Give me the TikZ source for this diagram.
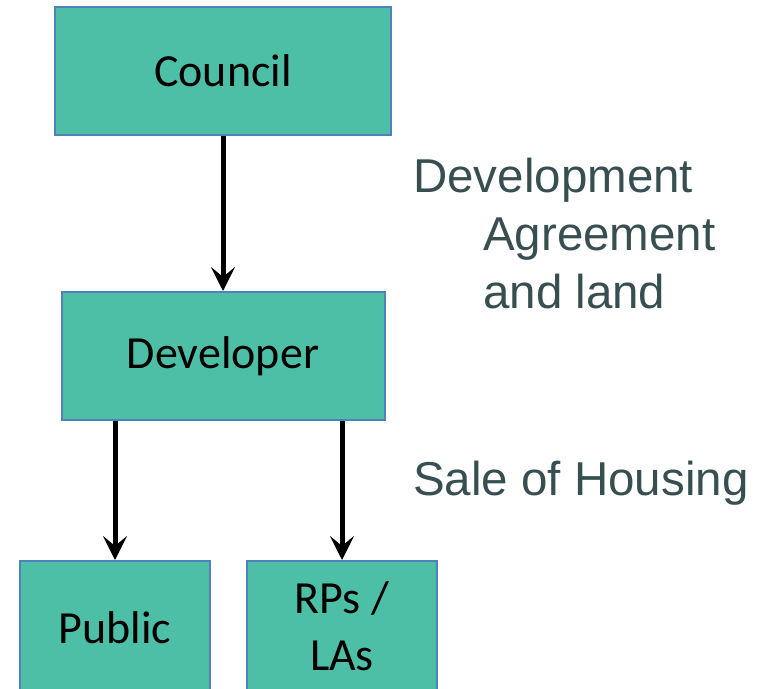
\documentclass[tikz,border=0pt]{standalone}
\usepackage{fontspec}
\setmainfont{Carlito}
\newfontfamily\notefont{Liberation Sans}
\usetikzlibrary{positioning,arrows.meta}
\definecolor{boxfill}{HTML}{4DBFA6}
\definecolor{boxline}{HTML}{4F81BD}
\definecolor{notegray}{HTML}{384F52}

\begin{document}
\begin{tikzpicture}[x=1pt,y=-1pt,
  party/.style={draw=boxline,line width=2pt,fill=boxfill,inner sep=0pt,align=center,
    minimum height=128pt,font=\fontsize{46}{57}\selectfont},
  flow/.style={line width=5pt,-{Stealth[length=24pt,width=24pt,inset=10pt]}},
  note/.style={anchor=base west,inner sep=0pt,text=notegray,font=\notefont\fontsize{47.5}{58}\selectfont}]
  \useasboundingbox (0,0) rectangle (760,688);

  % parties
  \node[party,minimum width=336pt] (council) at (223,71) {Council};
  \node[party,minimum width=323pt] (developer) at (223,356) {Developer};
  \node[party,minimum width=190pt,minimum height=140pt] (public) at (115,631) {\raisebox{6pt}{Public}};
  \node[party,minimum width=190pt,minimum height=140pt] (rpla) at (342,631)
    {\raisebox{6pt}{\begin{tabular}{@{}c@{}}RPs /\\LAs\end{tabular}}};

  % flows
  \draw[flow] (council) -- (developer);
  \draw[flow] (public.north |- developer.south) -- (public);
  \draw[flow] (rpla.north |- developer.south) -- (rpla);

  % notes
  \node[note] (devagr) at (413,192) {Development};
  \node[note] (agr) at (483,250) {Agreement};
  \node[note] (land) at (483,308) {and land};
  \node[note] (sale) at (413,495) {Sale of Housing};
\end{tikzpicture}
\end{document}
